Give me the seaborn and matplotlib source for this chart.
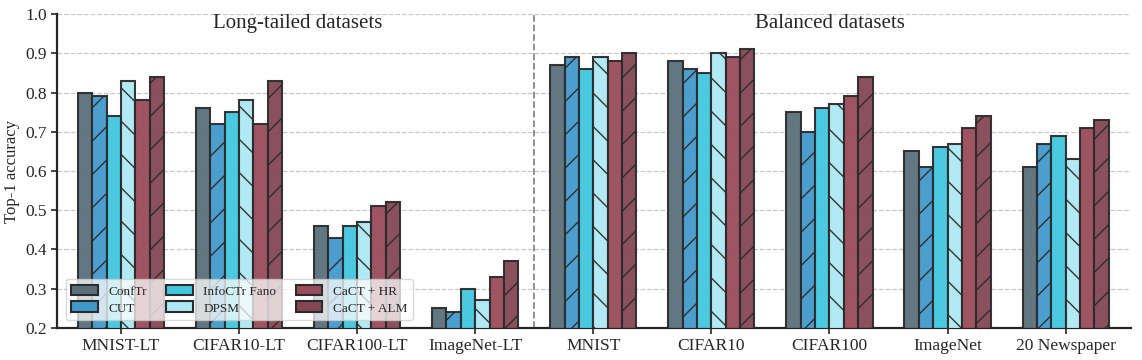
import pandas as pd
import matplotlib.pyplot as plt
import seaborn as sns

datasets = ["MNIST-LT", "CIFAR10-LT", "CIFAR100-LT", "ImageNet-LT",
            "MNIST", "CIFAR10", "CIFAR100", "ImageNet", "20 Newspaper"]
methods = ["ConfTr", "CUT", "InfoCTr Fano", "DPSM", "CaCT + HR", "CaCT + ALM"]

conftr = [0.80, 0.76, 0.46, 0.25, 0.87, 0.88, 0.75, 0.65, 0.61]
cut = [0.79, 0.72, 0.43, 0.24, 0.89, 0.86, 0.70, 0.61, 0.67]
infoctr = [0.74, 0.75, 0.46, 0.30, 0.86, 0.85, 0.76, 0.66, 0.69]
dpsm = [0.83, 0.78, 0.47, 0.27, 0.89, 0.90, 0.77, 0.67, 0.63]
cact_hr = [0.78, 0.72, 0.51, 0.33, 0.88, 0.89, 0.79, 0.71, 0.71]
cact_alm = [0.84, 0.83, 0.52, 0.37, 0.90, 0.91, 0.84, 0.74, 0.73]

colors = ["#5b707b", "#4199cb", "#40c6e0", "#ade8f4", "#9a4b5c", "#854655"]
hatches = ["", "/", "", "\\", "", "/"]

rows = []
for m, vals in zip(methods, [conftr, cut, infoctr, dpsm, cact_hr, cact_alm]):
    for d, v in zip(datasets, vals):
        rows.append({"dataset": d, "method": m, "acc": v})
df = pd.DataFrame(rows)

sns.set_style("ticks")
plt.rcParams['font.family'] = ['Liberation Serif', 'DejaVu Serif']
plt.rcParams['hatch.color'] = '#333333'
plt.rcParams['hatch.linewidth'] = 1.0

fig, ax = plt.subplots(figsize=(11.42, 3.6), dpi=100)
sns.barplot(data=df, x="dataset", y="acc", hue="method", order=datasets,
            hue_order=methods, palette=colors, width=0.73, saturation=1,
            edgecolor="#2b2b2b", linewidth=1.5, ax=ax, zorder=3)

for cont, h in zip(ax.containers, hatches):
    for bar in cont:
        bar.set_hatch(h)
        bar.set_alpha(0.95)

ax.set_ylim(0.2, 1.0)
ax.set_xlim(-0.54, 8.55)
ax.set_yticks([0.2, 0.3, 0.4, 0.5, 0.6, 0.7, 0.8, 0.9, 1.0])
ax.yaxis.grid(True, linestyle="--", color="#c8c8c8", linewidth=0.9, zorder=0)
ax.set_axisbelow(True)
ax.set_xlabel("")
ax.set_ylabel("Top-1 accuracy", fontsize=12)
ax.tick_params(axis="both", labelsize=12.5, width=1.2, length=4)
sns.despine(ax=ax)
for s in ["left", "bottom"]:
    ax.spines[s].set_linewidth(1.6)

ax.axvline(3.5, color="#888888", linestyle="--", linewidth=1.3, zorder=1)
ax.text(1.5, 0.975, "Long-tailed datasets", ha="center", va="center", fontsize=15)
ax.text(6.0, 0.975, "Balanced datasets", ha="center", va="center", fontsize=15)

leg = ax.legend(loc="lower left", ncol=3, fontsize=9.5, frameon=True,
                framealpha=0.75, borderpad=0.4, handlelength=2.0, handleheight=0.9,
                columnspacing=1.5, labelspacing=0.3, bbox_to_anchor=(0.002, 0.005))
leg.get_frame().set_edgecolor("#cccccc")

plt.subplots_adjust(left=0.05, right=0.99, top=0.961, bottom=0.089)
fig.savefig("out.png", dpi=100)
